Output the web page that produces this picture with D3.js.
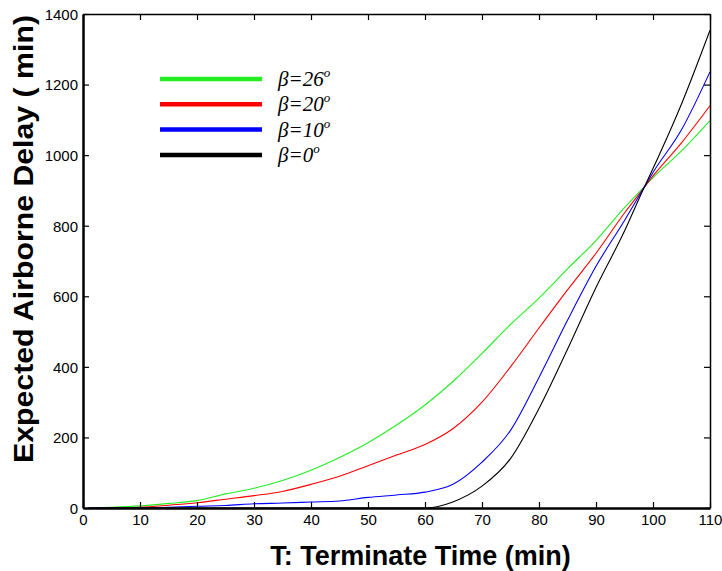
<!DOCTYPE html>
<html><head><meta charset="utf-8">
<script src="https://cdn.jsdelivr.net/npm/d3@7/dist/d3.min.js"></script>
<style>body{margin:0;background:#fff}svg{display:block}</style>
</head><body>
<svg id="c" width="722" height="571"></svg>
<script>
const T = [1,5,10,15,20,25,30,35,40,45,50,55,60,65,70,75,80,85,90,95,98,100,105,110];
const beta26 = [0,2,6,13,21,40,56,78,107,143,185,235,292,360,438,520,595,678,758,851,902,936,1012,1098];
const beta20 = [0,0,2,8,15,25,35,47,67,90,120,150,180,226,300,400,510,618,722,836,899,941,1035,1140];
const beta10 = [0,0,0,2,5,7,12,14,17,20,30,37,45,68,130,220,370,532,685,815,897,951,1072,1236];
const beta0  = [0,0,0,0,0,0,0,0,0,0,0,0,0,18,62,140,282,450,625,785,893,962,1145,1354];
const xTicks = [0,10,20,30,40,50,60,70,80,90,100,110];
const yTicks = [0,200,400,600,800,1000,1200,1400];
const seriesNames = ["β=26","β=20","β=10","β=0"];
const seriesColors = ["#22ee22","#ff0000","#0000ff","#000000"];
const seriesData = [beta26, beta20, beta10, beta0];

const svg = d3.select("#c");
const L=83, R=710, Tp=14, B=508;
const x = d3.scaleLinear().domain([0,110]).range([L,R]);
const y = d3.scaleLinear().domain([0,1400]).range([B,Tp]);

// lines
const line = d3.line().x(d=>x(d[0])).y(d=>y(d[1])).curve(d3.curveMonotoneX);
seriesData.forEach((s,i)=>{
  svg.append("path").datum(T.map((t,j)=>[t,s[j]]))
    .attr("d",line).attr("fill","none").attr("stroke",seriesColors[i]).attr("stroke-width",1.1);
});

// axes
const fmt = d3.format("d");
const ax = svg.append("g").attr("transform",`translate(0,${B})`)
  .call(d3.axisBottom(x).tickValues(xTicks).tickFormat(fmt).tickSizeInner(-6).tickSizeOuter(0).tickPadding(6));
const ay = svg.append("g").attr("transform",`translate(${L},0)`)
  .call(d3.axisLeft(y).tickValues(yTicks).tickFormat(fmt).tickSizeInner(-6).tickSizeOuter(0).tickPadding(5));
const axT = svg.append("g").attr("transform",`translate(0,${Tp})`)
  .call(d3.axisTop(x).tickValues(xTicks).tickSizeInner(-6).tickSizeOuter(0).tickFormat(""));
const ayR = svg.append("g").attr("transform",`translate(${R},0)`)
  .call(d3.axisRight(y).tickValues(yTicks).tickSizeInner(-6).tickSizeOuter(0).tickFormat(""));
[ax,ay,axT,ayR].forEach(g=>{
  g.selectAll("text").attr("font-family","Liberation Sans, Arial, sans-serif").attr("font-size",15).attr("fill","#000");
  g.selectAll("line").attr("stroke","#000").attr("stroke-width",1.2);
  g.select(".domain").attr("stroke","#000").attr("stroke-width",1.5);
});
ax.select(".domain").attr("stroke-width",2.5);
ay.select(".domain").attr("stroke-width",2.5);
ay.selectAll("text").attr("dy","0.36em");

// axis titles
svg.append("text").attr("x",420.5).attr("y",565).attr("text-anchor","middle")
  .attr("font-family","Liberation Sans, Arial, sans-serif").attr("font-weight","bold").attr("font-size",27)
  .text("T: Terminate Time (min)");
svg.append("text").attr("transform",`translate(33,239) rotate(-90)`).attr("text-anchor","middle")
  .attr("font-family","Liberation Sans, Arial, sans-serif").attr("font-weight","bold").attr("font-size",28)
  .attr("textLength",448).attr("lengthAdjust","spacingAndGlyphs")
  .text("Expected Airborne Delay ( min)");

// legend
const lg = svg.append("g");
seriesNames.forEach((n,i)=>{
  const yy = 79 + i*25.3;
  lg.append("line").attr("x1",160).attr("x2",262).attr("y1",yy).attr("y2",yy)
    .attr("stroke",seriesColors[i]).attr("stroke-width",4.5);
  const t = lg.append("text").attr("x",278).attr("y",yy+7)
    .attr("font-family","Liberation Serif, Times New Roman, serif").attr("font-style","italic").attr("font-size",21);
  t.append("tspan").text(n);
  t.append("tspan").attr("font-size",13).attr("dy",-9).text("o");
});
</script>
</body></html>
